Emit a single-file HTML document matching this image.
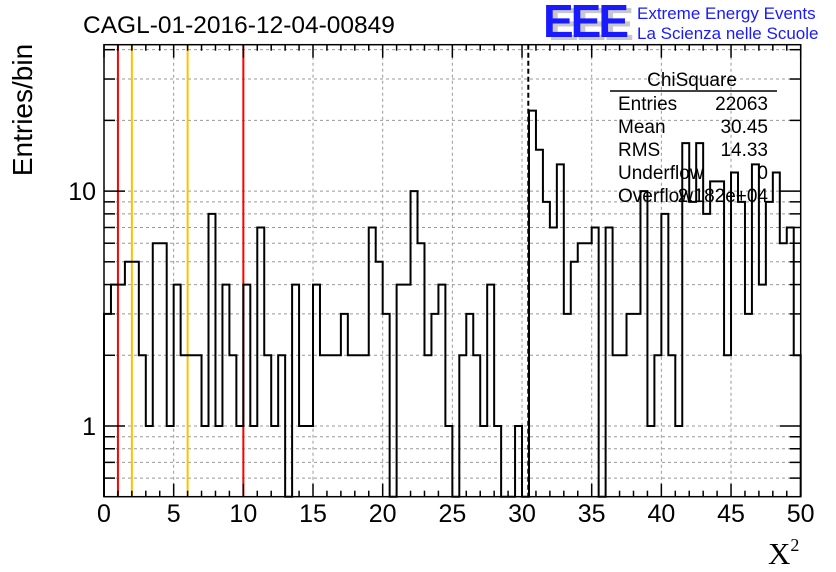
<!DOCTYPE html>
<html><head><meta charset="utf-8">
<style>
html,body{margin:0;padding:0;background:#fff;}
svg{display:block;font-family:"Liberation Sans",sans-serif;}
</style></head>
<body>
<svg id="chart" width="836" height="572" viewBox="0 0 836 572" xmlns="http://www.w3.org/2000/svg">
  <rect x="0" y="0" width="836" height="572" fill="#fff"/>
  <g id="grid"></g>
  <g id="cuts"></g>
  <g id="hist"></g>
  <g id="ticks"></g>
  <rect x="104" y="44.7" width="696.7" height="452" fill="none" stroke="#000" stroke-width="1.5"/>
  <text x="83" y="33" font-size="24.5">CAGL-01-2016-12-04-00849</text>
  <g>
    <text x="548" y="40" font-size="46" font-weight="bold" fill="#c8c8c8" letter-spacing="-3">EEE</text>
    <text x="543" y="37" font-size="46" font-weight="bold" fill="#1a1aff" letter-spacing="-3">EEE</text>
    <text x="637" y="19" font-size="17" fill="#1a1aff">Extreme Energy Events</text>
    <text x="637" y="39" font-size="17" fill="#1a1aff">La Scienza nelle Scuole</text>
  </g>
  <text transform="translate(32,110) rotate(-90)" text-anchor="middle" font-size="28">Entries/bin</text>
  <text x="768" y="564" font-family="'Liberation Serif',serif" font-size="31">X<tspan font-size="18" dy="-13">2</tspan></text>
  <g id="xlabels"></g>
  <g id="ylabels"></g>
  <g font-size="19">
    <text x="692" y="86" text-anchor="middle">ChiSquare</text>
    <line x1="610" y1="91" x2="777" y2="91" stroke="#000" stroke-width="1.5"/>
    <text x="618" y="110">Entries</text><text x="768" y="110" text-anchor="end">22063</text>
    <text x="618" y="133">Mean</text><text x="768" y="133" text-anchor="end">30.45</text>
    <text x="618" y="156">RMS</text><text x="768" y="156" text-anchor="end">14.33</text>
    <text x="618" y="179">Underflow</text><text x="768" y="179" text-anchor="end">0</text>
    <text x="618" y="202">Overflow</text><text x="768" y="202" text-anchor="end">2.182e+04</text>
  </g>
</svg>
<script>
const binCounts = [3,4,4,5,5,2,1,6,6,1,4,2,2,2,1,8,1,4,2,1,4,1,7,2,1,2,0,4,1,1,4,2,2,2,3,2,2,2,7,5,3,0,4,4,10,6,2,3,4,1,0,2,3,2,1,4,1,0,0,1,0,22,15,9,7,13,3,5,6,6,7,0,7,2,2,3,3,10,1,2,8,2,1,16,9,16,8,11,11,2,12,9,3,13,4,9,12,6,7,2];
const xTickValues = [0,5,10,15,20,25,30,35,40,45,50];
const yTickLabels = ["1","10"];
const yTickValues = [1,10];
const cutValues = [1,2,6,10];
const cutColors = ["#ff0000","#ffc000","#ffc000","#ff0000"];
const meanValue = 30.45;
const xMin = 0, xMax = 50, yMin = 0.5, yMax = 42;

const L=104, R=800.7, T=44.7, B=496.7;
const NS="http://www.w3.org/2000/svg";
function X(v){return L+(v-xMin)/(xMax-xMin)*(R-L);}
function Y(v){if(v<=0) return B; return B-(Math.log10(v)-Math.log10(yMin))/(Math.log10(yMax)-Math.log10(yMin))*(B-T);}
function mk(tag,attrs,parent){const e=document.createElementNS(NS,tag);for(const k in attrs)e.setAttribute(k,attrs[k]);parent.appendChild(e);return e;}

const grid=document.getElementById('grid');
for(let v=5;v<50;v+=5){
  const l=mk('line',{x1:X(v),x2:X(v),y1:T,y2:B,stroke:'#999','stroke-dasharray':'3,3','stroke-width':1},grid);
  
  
}
const yGridVals=[0.6,0.7,0.8,0.9,1,2,3,4,5,6,7,8,9,10,20,30,40];
yGridVals.forEach(v=>{
  const l=mk('line',{x1:L,x2:R,y1:Y(v),y2:Y(v),stroke:'#999','stroke-dasharray':'3,3','stroke-width':1},grid);
  
  
});

const cuts=document.getElementById('cuts');
cutValues.forEach((v,i)=>{
  const l=mk('line',{x1:X(v),x2:X(v),y1:T,y2:B,stroke:cutColors[i],'stroke-width':2},cuts);
  
  
});

const hist=document.getElementById('hist');
const n=binCounts.length, w=(xMax-xMin)/n;
let d='M'+X(0)+','+B;
for(let i=0;i<n;i++){
  const y=Y(binCounts[i]);
  d+=' L'+X(i*w)+','+y+' L'+X((i+1)*w)+','+y;
}
d+=' L'+X(xMax)+','+B;
const p=mk('path',{d:d,fill:'none',stroke:'#000','stroke-width':2},hist);


const ml=mk('line',{x1:X(meanValue),x2:X(meanValue),y1:T,y2:B,stroke:'#000','stroke-width':2,'stroke-dasharray':'5,3'},hist);



const ticks=document.getElementById('ticks');
for(let v=0;v<=50;v+=1){
  const len=(v%5===0)?13:6;
  mk('line',{x1:X(v),x2:X(v),y1:B,y2:B-len,stroke:'#000','stroke-width':1.5},ticks);
  mk('line',{x1:X(v),x2:X(v),y1:T,y2:T+len,stroke:'#000','stroke-width':1.5},ticks);
}
yGridVals.forEach(v=>{
  const len=(v===1||v===10)?21:11;
  mk('line',{x1:L,x2:L+len,y1:Y(v),y2:Y(v),stroke:'#000','stroke-width':1.5},ticks);
  mk('line',{x1:R,x2:R-len,y1:Y(v),y2:Y(v),stroke:'#000','stroke-width':1.5},ticks);
});

const xl=document.getElementById('xlabels');
xTickValues.forEach(v=>{
  const t=mk('text',{x:X(v),y:522,'text-anchor':'middle','font-size':25},xl);
  
  
  t.textContent=String(v);
});
const yl=document.getElementById('ylabels');
yTickValues.forEach((v,i)=>{
  const t=mk('text',{x:96,y:Y(v)+9,'text-anchor':'end','font-size':25},yl);
  
  
  t.textContent=yTickLabels[i];
});
</script>
</body></html>
